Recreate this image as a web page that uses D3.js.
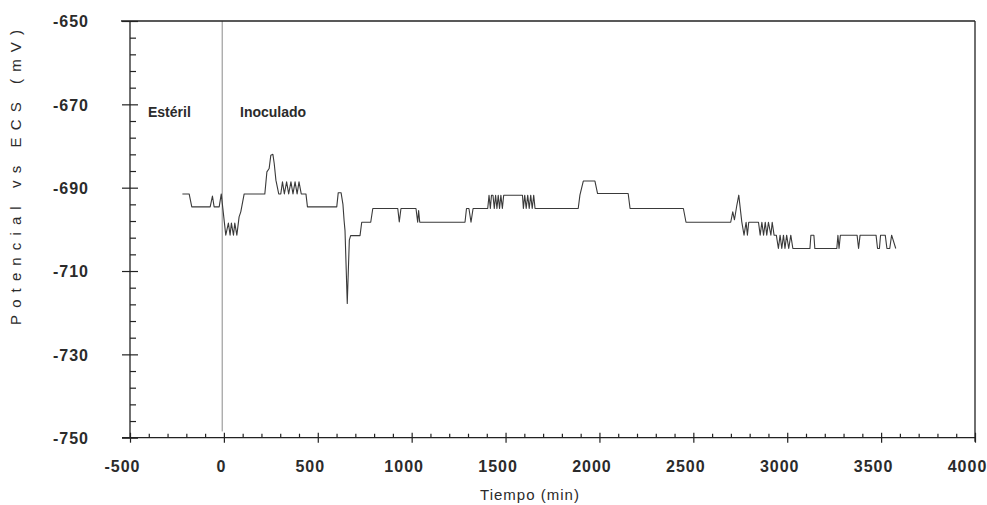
<!DOCTYPE html>
<html>
<head>
<meta charset="utf-8">
<script src="https://cdn.jsdelivr.net/npm/d3@7"></script>
<style>
  html, body { margin: 0; padding: 0; background: #fff; }
  svg { display: block; font-family: "Liberation Sans", Arial, sans-serif; }
</style>
</head>
<body>
<svg id="chart" width="987" height="505"></svg>
<script>
// ---- data ----
const timeMin = [
  -221, -185, -171, -73, -61, -52, -25, -14, -8, 10, 24, 33, 40, 51, 58, 69, 81, 90, 108,
  218, 229, 241, 250, 261, 268, 277, 292, 303, 312, 322, 334, 345, 357, 368, 379, 390, 400, 412,
  437, 445,
  565, 601, 609, 624, 634, 640, 645, 657, 668, 675, 725, 734, 782, 793, 926, 934, 943,
  1023, 1032, 1037, 1043, 1284, 1292, 1305, 1316, 1327, 1405,
  1412, 1419, 1425, 1433, 1440, 1447, 1454, 1461, 1468, 1475, 1483, 1490, 1590,
  1595, 1602, 1610, 1618, 1626, 1634, 1642, 1650, 1657, 1887, 1896, 1914, 1976, 1990, 2153, 2163,
  2447, 2461, 2699, 2710, 2719, 2731, 2742, 2749, 2758, 2770, 2781, 2788, 2795, 2847, 2856, 2865,
  2874, 2883, 2891, 2900, 2913, 2920, 2930, 2942, 2953, 2962, 2971, 2980, 2988, 2997, 3008, 3019, 3030,
  3121, 3126, 3142, 3147, 3264, 3270, 3276, 3283, 3372, 3380, 3388, 3473, 3481, 3491, 3497,
  3522, 3531, 3546, 3556, 3578
];
const potential = [
  -691.5, -691.5, -694.6, -694.6, -692, -694.6, -694.6, -691.5, -694, -701.4, -698.5, -701.4, -698.5, -701.4, -698.5, -701.4, -697, -695.8, -691.5,
  -691.5, -686.2, -685.4, -682.2, -682, -684.2, -688.2, -691.5, -691.5, -688.6, -691.5, -688.6, -691.5, -688.6, -691.5, -688.6, -691.5, -688.6, -691.5,
  -691.5, -694.6,
  -694.6, -694.6, -691.2, -691.2, -694, -697.8, -700.3, -717.8, -702.6, -701.5, -701.5, -698.3, -698.3, -695, -695, -698.2, -695,
  -695, -698.3, -695.5, -698.3, -698.3, -695, -695, -698.3, -695, -695,
  -691.8, -695, -691.8, -691.8, -695, -691.8, -695, -691.8, -695, -691.8, -695, -691.8, -691.8,
  -695, -691.8, -695, -691.8, -695, -691.8, -695, -691.8, -695, -695, -691.8, -688.4, -688.4, -691.4, -691.4, -695,
  -695, -698.3, -698.3, -695.8, -697.7, -694.4, -691.8, -694.6, -698.2, -701.4, -698.3, -701.4, -698.3, -698.3, -701.4, -698.3,
  -701.4, -698.3, -701.4, -698.3, -701.4, -698.3, -701.4, -701.4, -704.6, -701.4, -704.6, -701.4, -704.6, -701.4, -704.6, -701.4, -704.6,
  -704.6, -701.4, -701.4, -704.6, -704.6, -701.4, -704.6, -701.4, -701.4, -704.6, -701.4, -701.4, -704.6, -704.6, -701.4,
  -701.4, -704.6, -704.6, -701.4, -704.6
];
const xTicks = [-500, 0, 500, 1000, 1500, 2000, 2500, 3000, 3500, 4000];
const yTicks = [-750, -730, -710, -690, -670, -650];
const phaseLabels = ["Estéril", "Inoculado"];
const inoculationTime = -9;
const xTitle = "Tiempo (min)";
const yTitle = "Potencial vs ECS (mV)";

// ---- drawing ----
const svg = d3.select("#chart");
svg.append("rect").attr("width", 987).attr("height", 505).attr("fill", "#fff");

const x = d3.scaleLinear().domain([-500, 4000]).range([130, 975]);
const y = d3.scaleLinear().domain([-750, -650]).range([437.7, 21]);

const axisColor = "#222";
const labelColor = "#2b2b2b";
const fmt = d => String(d);

// vertical marker line (inoculation)
svg.append("line")
  .attr("x1", x(inoculationTime)).attr("x2", x(inoculationTime))
  .attr("y1", y(-650)).attr("y2", y(-748.5))
  .attr("stroke", "#8a8a8a").attr("stroke-width", 1);

// top and right frame
svg.append("line").attr("x1", 121).attr("x2", x(4000)).attr("y1", y(-650)).attr("y2", y(-650))
  .attr("stroke", axisColor).attr("stroke-width", 1.3);
svg.append("line").attr("x1", x(4000)).attr("x2", x(4000)).attr("y1", y(-650)).attr("y2", y(-750) + 4)
  .attr("stroke", axisColor).attr("stroke-width", 1.3);

// minor ticks
const xMinor = d3.range(-500, 4001, 100).filter(v => !xTicks.includes(v));
svg.append("g").attr("transform", `translate(0,${y(-750)})`)
  .call(d3.axisBottom(x).tickValues(xMinor).tickSize(-4).tickFormat(""))
  .call(g => g.select(".domain").remove())
  .call(g => g.selectAll("line").attr("stroke", axisColor).attr("stroke-width", 1.2));
const yMinor = d3.range(-750, -649, 4).filter(v => !yTicks.includes(v));
svg.append("g").attr("transform", `translate(${x(-500)},0)`)
  .call(d3.axisLeft(y).tickValues(yMinor).tickSize(-6).tickFormat(""))
  .call(g => g.select(".domain").remove())
  .call(g => g.selectAll("line").attr("stroke", axisColor).attr("stroke-width", 1.2));

// major x axis
svg.append("g").attr("transform", `translate(0,${y(-750)})`)
  .call(d3.axisBottom(x).tickValues(xTicks).tickSizeOuter(0).tickFormat(fmt))
  .call(g => g.select(".domain").attr("stroke", axisColor).attr("stroke-width", 1.3)
        .attr("d", `M${x(-500) - 8},0H${x(4000)}`))
  .call(g => g.selectAll(".tick line").attr("stroke", axisColor).attr("stroke-width", 1.2).attr("y1", -5).attr("y2", 5))
  .call(g => g.selectAll(".tick text")
        .attr("y", 34).attr("dy", null)
        .attr("dx", d => d === 0 ? -3 : -8)
        .attr("fill", labelColor)
        .style("font-size", "16px").style("font-weight", "bold").style("letter-spacing", "1px"));

// major y axis
svg.append("g").attr("transform", `translate(${x(-500)},0)`)
  .call(d3.axisLeft(y).tickValues(yTicks).tickSizeOuter(0).tickFormat(fmt))
  .call(g => g.select(".domain").attr("stroke", axisColor).attr("stroke-width", 1.3)
        .attr("d", `M0,${y(-750)}V${y(-650)}`))
  .call(g => g.selectAll(".tick line").attr("stroke", axisColor).attr("stroke-width", 1.2).attr("x1", -8).attr("x2", 8))
  .call(g => g.selectAll(".tick text")
        .attr("x", -41).attr("dy", "0.36em")
        .attr("fill", labelColor)
        .style("font-size", "16px").style("font-weight", "bold").style("letter-spacing", "1px"));

// data line
const pts = timeMin.map((t, i) => [t, potential[i]]);
svg.append("path")
  .datum(pts)
  .attr("fill", "none")
  .attr("stroke", "#3a3a3a")
  .attr("stroke-width", 1.1)
  .attr("stroke-linejoin", "round")
  .attr("d", d3.line().x(d => x(d[0])).y(d => y(d[1])));

// phase labels
svg.append("text").attr("x", 148).attr("y", 117).text(phaseLabels[0])
  .attr("fill", labelColor).style("font-size", "14px").style("font-weight", "bold");
svg.append("text").attr("x", 240).attr("y", 117).text(phaseLabels[1])
  .attr("fill", labelColor).style("font-size", "14px").style("font-weight", "bold");

// axis titles
svg.append("text")
  .attr("x", 530).attr("y", 500)
  .attr("text-anchor", "middle")
  .attr("fill", labelColor)
  .style("font-size", "15px").style("letter-spacing", "1px")
  .text(xTitle);

svg.append("text")
  .attr("transform", "translate(15,177.5) rotate(-90)")
  .attr("text-anchor", "middle")
  .attr("dominant-baseline", "central")
  .attr("textLength", 295).attr("lengthAdjust", "spacing")
  .attr("fill", labelColor)
  .style("font-size", "15px")
  .text(yTitle);
</script>
</body>
</html>
